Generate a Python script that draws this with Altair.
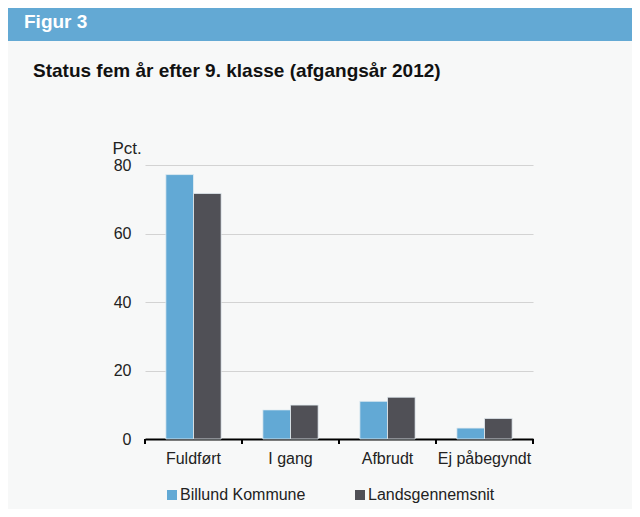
import altair as alt
import pandas as pd

categories = ["Fuldført", "I gang", "Afbrudt", "Ej påbegyndt"]
series = ["Billund Kommune", "Landsgennemsnit"]
billund = [77.2, 8.5, 11.0, 3.2]
lands = [71.7, 9.9, 12.2, 6.0]
y_ticks = [0, 20, 40, 60, 80]
colors = ["#62a9d5", "#505056"]
boundaries = list(range(len(categories) + 1))

rows = []
for c, b, l in zip(categories, billund, lands):
    rows.append({"kategori": c, "serie": series[0], "pct": b})
    rows.append({"kategori": c, "serie": series[1], "pct": l})
df = pd.DataFrame(rows)
df_b = pd.DataFrame({"b": boundaries})

FONT = "Liberation Sans"
W, H = 388, 274
PAD_L, PAD_T, PAD_R, PAD_B = 137, 157, 99, 70

bars = alt.Chart(df).mark_bar(stroke="#e4edf2", strokeWidth=0.8).encode(
    x=alt.X("kategori:N", sort=categories,
            scale=alt.Scale(paddingInner=0.43, paddingOuter=0.215),
            axis=alt.Axis(title=None, labelAngle=0, ticks=False,
                          domainColor="#000", domainWidth=2, labelPadding=11,
                          labelFontSize=16, labelColor="#222", labelFont=FONT,
                          grid=False)),
    xOffset=alt.XOffset("serie:N", sort=series),
    y=alt.Y("pct:Q", scale=alt.Scale(domain=[0, 80]),
            axis=alt.Axis(values=y_ticks, title="Pct.", titleAngle=0,
                          titleX=-33, titleY=-12, titleAlign="left",
                          titleBaseline="alphabetic", titleFontSize=17,
                          titleFontWeight="normal", titleFont=FONT, titleColor="#222",
                          ticks=False, domain=False, labelPadding=14,
                          labelFontSize=16, labelColor="#222", labelFont=FONT,
                          gridColor="#d3d3d3", gridWidth=1)),
    color=alt.Color("serie:N", sort=series,
                    scale=alt.Scale(domain=series, range=colors),
                    legend=alt.Legend(title=None, orient="none", legendX=19, legendY=322,
                                      direction="horizontal", columns=2,
                                      symbolType="square", symbolSize=100,
                                      symbolStrokeWidth=0, labelFontSize=16,
                                      labelFont=FONT, labelColor="#222",
                                      labelOffset=0, columnPadding=46)),
)

ticks = alt.Chart(df_b).mark_rule(color="#000", strokeWidth=2).encode(
    x=alt.X("b:Q", scale=alt.Scale(domain=[0, len(categories)], nice=False, zero=False),
            axis=None),
    y=alt.value(H),
    y2=alt.value(H + 5),
)

one = pd.DataFrame({"a": [0]})
header = alt.Chart(one).mark_rect(color="#63a9d4").encode(
    x=alt.value(-PAD_L), x2=alt.value(W + PAD_R),
    y=alt.value(-PAD_T), y2=alt.value(33 - PAD_T),
)
fig_title = alt.Chart(one).mark_text(
    text="Figur 3", color="white", fontSize=19, fontWeight="bold", font=FONT,
    align="left", baseline="alphabetic",
).encode(x=alt.value(16 - PAD_L), y=alt.value(20 - PAD_T))
main_title = alt.Chart(one).mark_text(
    text="Status fem år efter 9. klasse (afgangsår 2012)", color="#111",
    fontSize=19, fontWeight="bold", font=FONT, align="left", baseline="alphabetic",
).encode(x=alt.value(25 - PAD_L), y=alt.value(69 - PAD_T))

chart = alt.layer(header, fig_title, main_title, bars, ticks).resolve_scale(
    x="independent"
).properties(
    width=W, height=H,
    autosize=alt.AutoSizeParams(type="none"),
    padding={"left": PAD_L, "top": PAD_T, "right": PAD_R, "bottom": PAD_B},
    background="#f7f8f8",
).configure_view(stroke=None)

chart.save("out.html", embed_options={"renderer": "svg", "actions": False})
